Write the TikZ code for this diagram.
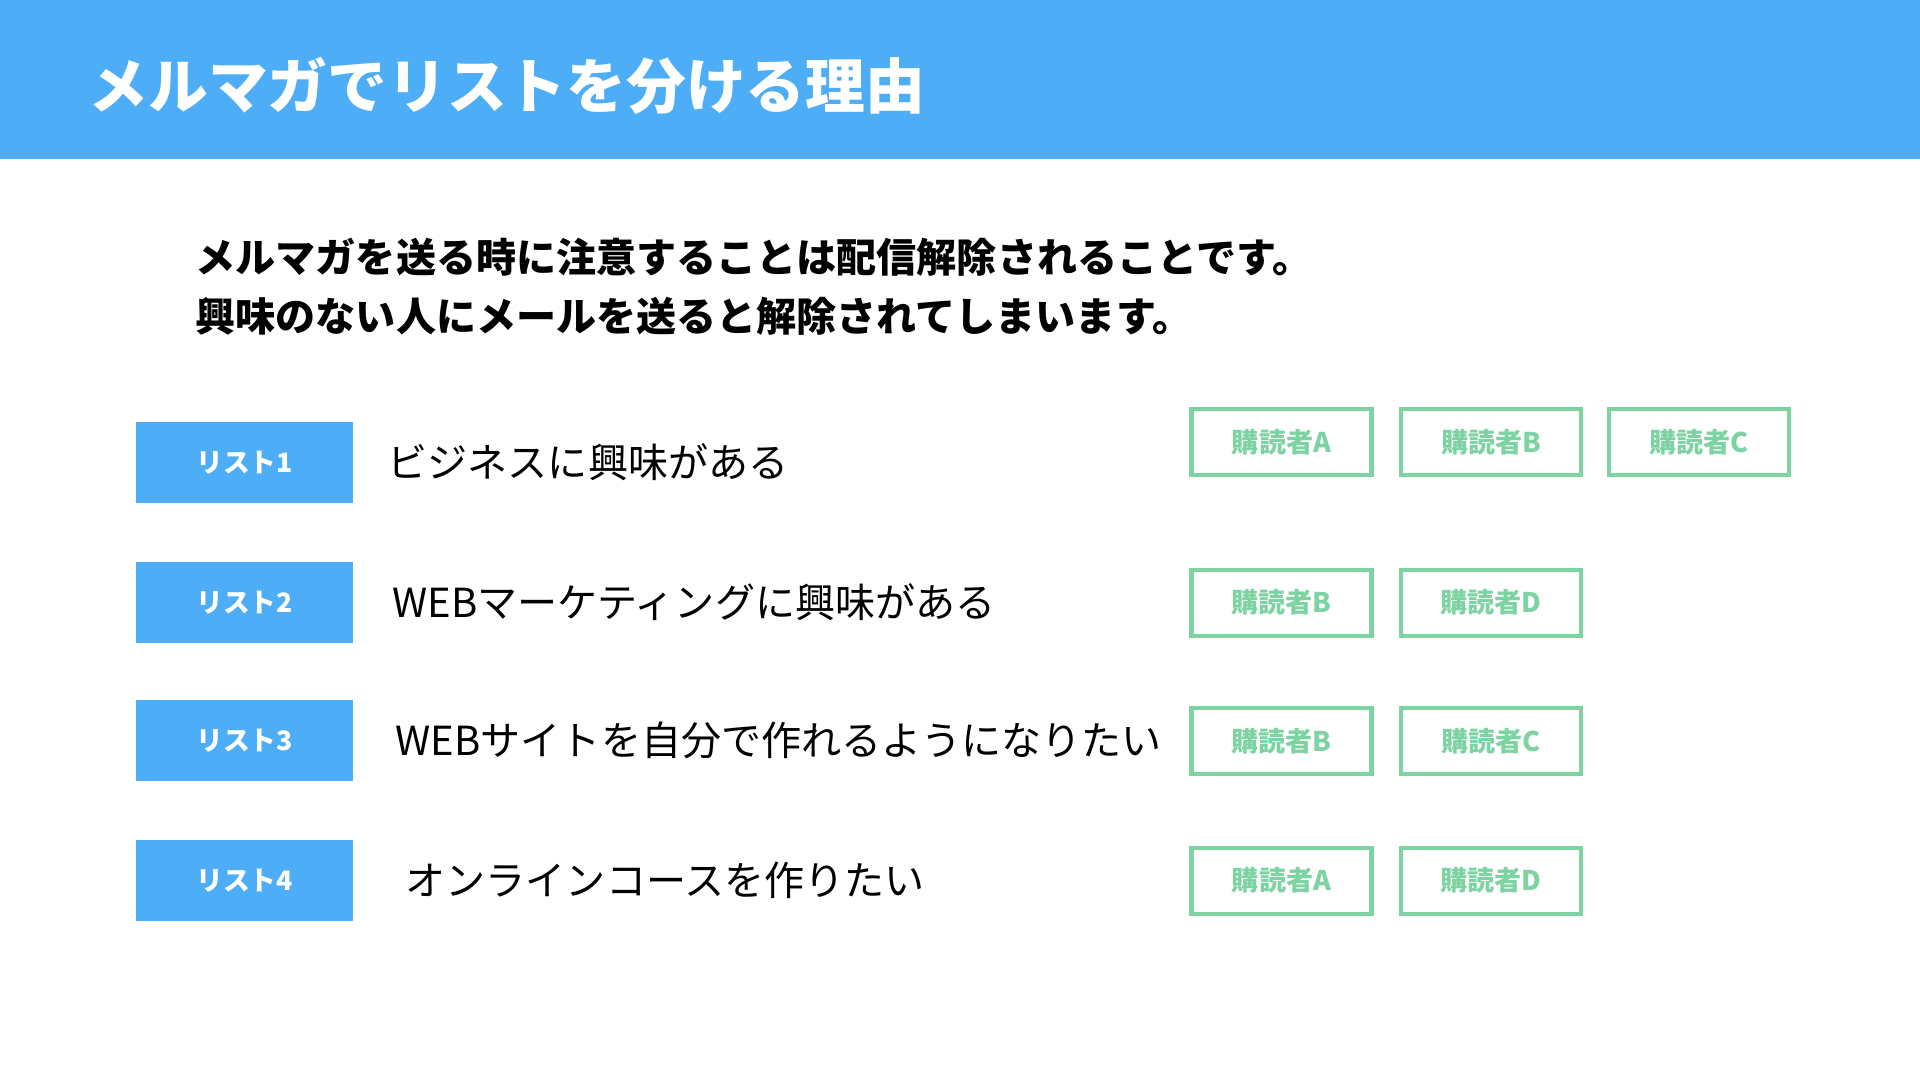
\documentclass[tikz,border=0pt]{standalone}
\usepackage{fontspec}
\setmainfont{Noto Sans CJK JP}
\definecolor{hdr}{RGB}{78,173,247}
\definecolor{grn}{RGB}{125,211,162}
\tikzset{
  lbl/.style={fill=hdr, draw=none, minimum width=21.7mm, minimum height=8.1mm, inner sep=0pt,
    text=white, font=\bfseries\fontsize{7.6pt}{9pt}\selectfont},
  desc/.style={anchor=west, inner sep=0pt, text=black, font=\fontsize{11.4pt}{13pt}\selectfont},
  sub/.style={draw=grn, line width=1.15pt, fill=white, minimum width=18.0mm, minimum height=6.6mm,
    inner sep=0pt, text=grn, font=\bfseries\fontsize{7.7pt}{9pt}\selectfont},
  body/.style={anchor=west, inner sep=0pt, text=black, font=\bfseries\fontsize{11.4pt}{13pt}\selectfont}
}
\begin{document}
\begin{tikzpicture}[x=0.1mm,y=-0.1mm]
\useasboundingbox (0,0) rectangle (1920,1080);
\fill[white] (0,0) rectangle (1920,1080);
\fill[hdr] (0,0) rectangle (1920,159);
\node[anchor=west, inner sep=0pt, text=white, font=\bfseries\fontsize{17pt}{20pt}\selectfont] (title) at (88,86) {メルマガでリストを分ける理由};
\node[body] (body1) at (195,257) {メルマガを送る時に注意することは配信解除されることです。};
\node[body] (body2) at (195,316) {興味のない人にメールを送ると解除されてしまいます。};

\node[lbl] (l1) at (244.5,462.5) {リスト1};
\node[lbl] (l2) at (244.5,602.5) {リスト2};
\node[lbl] (l3) at (244.5,740.5) {リスト3};
\node[lbl] (l4) at (244.5,880.5) {リスト4};

\node[desc] (d1) at (387,462.5) {ビジネスに興味がある};
\node[desc] (d2) at (392,602.5) {WEBマーケティングに興味がある};
\node[desc] (d3) at (395,740.5) {WEBサイトを自分で作れるようになりたい};
\node[desc] (d4) at (405,880.5) {オンラインコースを作りたい};

\node[sub] (s1a) at (1281.5,442) {購読者A};
\node[sub] (s1b) at (1491,442) {購読者B};
\node[sub] (s1c) at (1699,442) {購読者C};
\node[sub] (s2a) at (1281.5,602.5) {購読者B};
\node[sub] (s2b) at (1491,602.5) {購読者D};
\node[sub] (s3a) at (1281.5,741) {購読者B};
\node[sub] (s3b) at (1491,741) {購読者C};
\node[sub] (s4a) at (1281.5,880.5) {購読者A};
\node[sub] (s4b) at (1491,880.5) {購読者D};
\end{tikzpicture}
\end{document}
